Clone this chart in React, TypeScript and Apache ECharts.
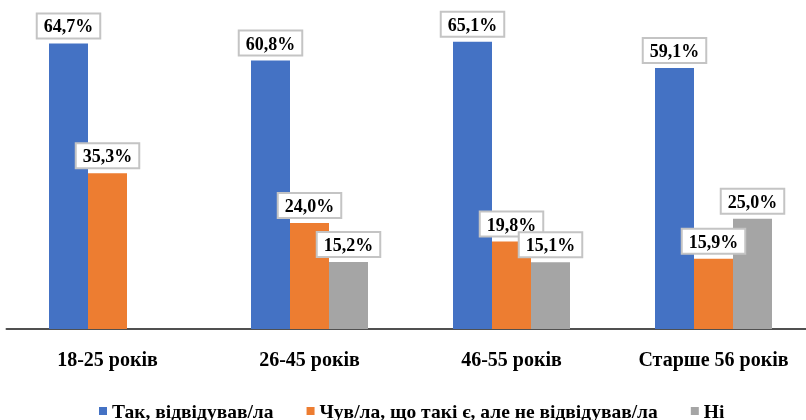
import React, { useEffect, useRef } from "react";
import * as echarts from "echarts";

const categories = ["18-25 років", "26-45 років", "46-55 років", "Старше 56 років"];
const seriesNames = ["Так, відвідував/ла", "Чув/ла, що такі є, але не відвідував/ла", "Ні"];
const visited = [64.7, 60.8, 65.1, 59.1];
const heardNotVisited = [35.3, 24.0, 19.8, 15.9];
const no = [null, 15.2, 15.1, 25.0];
const colors = ["#4472C4", "#ED7D31", "#A5A5A5"];

const FONT = "'Liberation Serif', 'Times New Roman', serif";

export default function App() {
  const ref = useRef<HTMLDivElement>(null);
  useEffect(() => {
    if (!ref.current) return;
    const chart = echarts.init(ref.current, null, { renderer: "svg" });
    const label = {
      show: true,
      position: "top",
      distance: 6,
      formatter: (p: any) => p.value.toFixed(1).replace(".", ",") + "%",
      fontFamily: FONT,
      fontWeight: "bold",
      fontSize: 18,
      color: "#000",
      backgroundColor: "#fff",
      borderColor: "#c4c4c4",
      borderWidth: 2,
      padding: [3, 6, 2, 6],
    };
    const data = [visited, heardNotVisited, no];
    chart.setOption({
      animation: false,
      grid: { left: 6.5, width: 808, top: 20, bottom: 91, containLabel: false },
      legend: {
        left: 94,
        top: 396,
        itemWidth: 8,
        itemHeight: 8,
        itemGap: 33,
        icon: "rect",
        textStyle: { fontFamily: FONT, fontWeight: "bold", fontSize: 19.5, color: "#000" },
        data: seriesNames,
      },
      xAxis: {
        type: "category",
        data: categories,
        axisLine: { lineStyle: { color: "#505050", width: 2 } },
        axisTick: { show: false },
        axisLabel: { fontFamily: FONT, fontWeight: "bold", fontSize: 20, color: "#000", margin: 20 },
      },
      yAxis: {
        type: "value",
        min: 0,
        max: 70,
        show: false,
        splitLine: { show: false },
      },
      series: seriesNames.map((name, i) => ({
        name,
        type: "bar",
        data: data[i],
        barWidth: 39,
        barGap: "0%",
        itemStyle: { color: colors[i] },
        label,
      })),
    });
    return () => chart.dispose();
  }, []);
  return <div ref={ref} style={{ position: "fixed", left: 0, top: 0, width: 816, height: 420 }} />;
}
